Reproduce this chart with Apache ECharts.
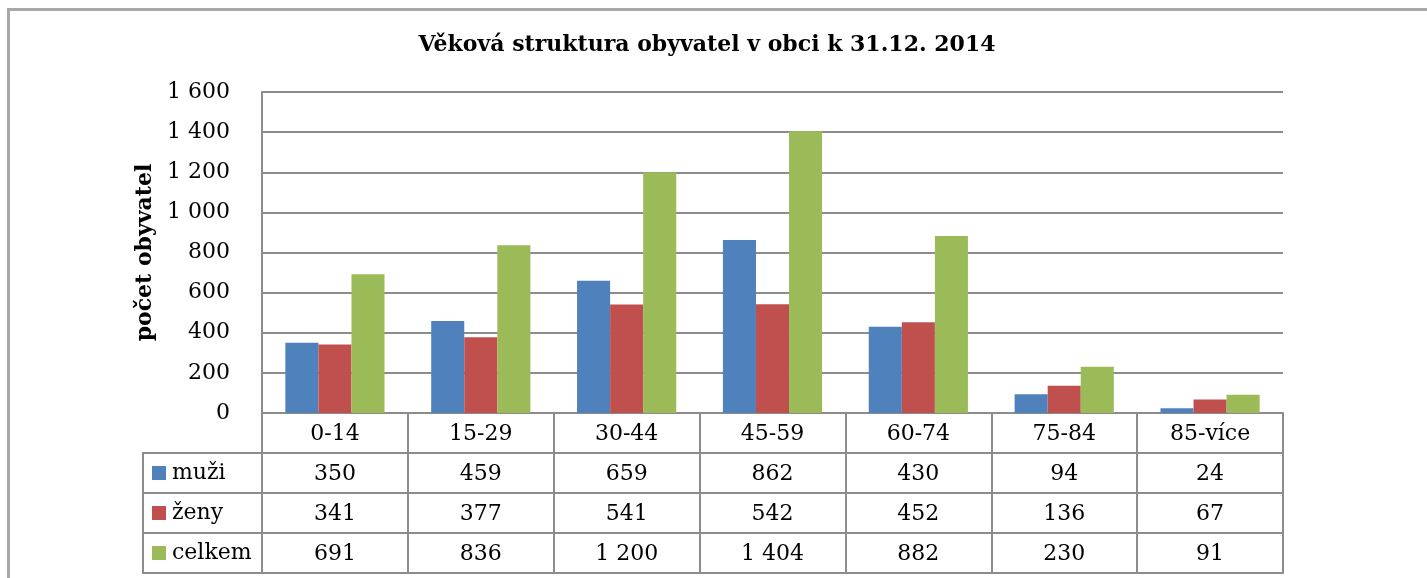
<!DOCTYPE html>
<html><head><meta charset="utf-8">
<script src="https://cdn.jsdelivr.net/npm/echarts@6/dist/echarts.min.js"></script>
<style>
html,body{margin:0;padding:0;background:#fff;}
#frame{position:absolute;left:7px;top:8px;width:1500px;height:700px;border:3px solid #a8a8a8;box-sizing:border-box;}
#c{position:absolute;left:0;top:0;width:1427px;height:578px;}
</style></head>
<body><div id="frame"></div><div id="c"></div>
<script>
const titleText = 'Věková struktura obyvatel v obci k 31.12. 2014';
const categories = ['0-14', '15-29', '30-44', '45-59', '60-74', '75-84', '85-více'];
const seriesNames = ['muži', 'ženy', 'celkem'];
const muzi = [350, 459, 659, 862, 430, 94, 24];
const zeny = [341, 377, 541, 542, 452, 136, 67];
const celkem = [691, 836, 1200, 1404, 882, 230, 91];
const yTicks = { min: 0, max: 1600, interval: 200 };
const colors = ['#4F81BD', '#C0504D', '#9BBB59'];

const FONT = 'DejaVu Serif';
const LINE = '#8c8c8c';
const LW = 2;
const ROW = 40;
const fmt = v => v >= 1000 ? Math.floor(v / 1000) + ' ' + String(v % 1000).padStart(3, '0') : String(v);

const allValues = [muzi, zeny, celkem];

function tableAxis(offset, values, showTicks) {
  return {
    type: 'category', gridIndex: 0, position: 'bottom', offset: offset,
    data: categories,
    axisLine: { show: true, lineStyle: { color: LINE, width: LW } },
    axisTick: { show: showTicks, length: ROW, interval: 0, lineStyle: { color: LINE, width: LW } },
    axisLabel: {
      show: !!values, interval: 0, margin: 10,
      fontFamily: FONT, fontSize: 22, color: '#000',
      formatter: (v, i) => values ? fmt(values[i]) : ''
    },
    splitLine: { show: false }
  };
}

const xAxes = [
  Object.assign(tableAxis(0, null, true), {
    axisLabel: { show: true, interval: 0, margin: 10, fontFamily: FONT, fontSize: 22, color: '#000' }
  }),
  tableAxis(ROW, muzi, true),
  tableAxis(ROW * 2, zeny, true),
  tableAxis(ROW * 3, celkem, true),
  tableAxis(ROW * 4, null, false),
  { type: 'value', gridIndex: 1, show: false }
];

const rich = { t: { fontFamily: FONT, fontSize: 22, color: '#000', padding: [0, 0, 0, 6] } };
colors.forEach((c, i) => { rich['s' + i] = { width: 14, height: 14, backgroundColor: c }; });

const chart = echarts.init(document.getElementById('c'));
chart.setOption({
  animation: false,
  title: {
    text: titleText, left: 702, top: 29, textAlign: 'center',
    textStyle: { fontFamily: FONT, fontSize: 22, fontWeight: 'bold', color: '#000' }
  },
  grid: [
    { left: 262, top: 92, right: 144, bottom: 165, containLabel: false },
    { left: 143, top: 453, width: 119, height: 120, show: true, borderColor: LINE, borderWidth: LW, backgroundColor: 'transparent' }
  ],
  xAxis: xAxes,
  yAxis: [
    {
      type: 'value', gridIndex: 0, min: yTicks.min, max: yTicks.max, interval: yTicks.interval,
      name: 'počet obyvatel', nameLocation: 'middle', nameGap: 104,
      nameTextStyle: { fontFamily: FONT, fontSize: 22, fontWeight: 'bold', color: '#000' },
      axisLine: { show: true, lineStyle: { color: LINE, width: LW } },
      axisTick: { show: false },
      axisLabel: { margin: 32, fontFamily: FONT, fontSize: 22, color: '#000', formatter: fmt },
      splitLine: { show: true, lineStyle: { color: LINE, width: LW } }
    },
    {
      type: 'category', gridIndex: 1, inverse: true, data: seriesNames,
      axisLine: { show: false }, axisTick: { show: false },
      axisLabel: {
        inside: true, margin: 9, interval: 0,
        formatter: (v, i) => '{s' + i + '|}{t|' + v + '}', rich: rich
      },
      splitLine: { show: true, interval: 0, lineStyle: { color: LINE, width: LW } }
    }
  ],
  series: allValues.map((vals, i) => ({
    name: seriesNames[i], type: 'bar', xAxisIndex: 0, yAxisIndex: 0,
    data: vals, barGap: '0%', barCategoryGap: '32%',
    itemStyle: { color: colors[i] }
  }))
});
</script></body></html>
